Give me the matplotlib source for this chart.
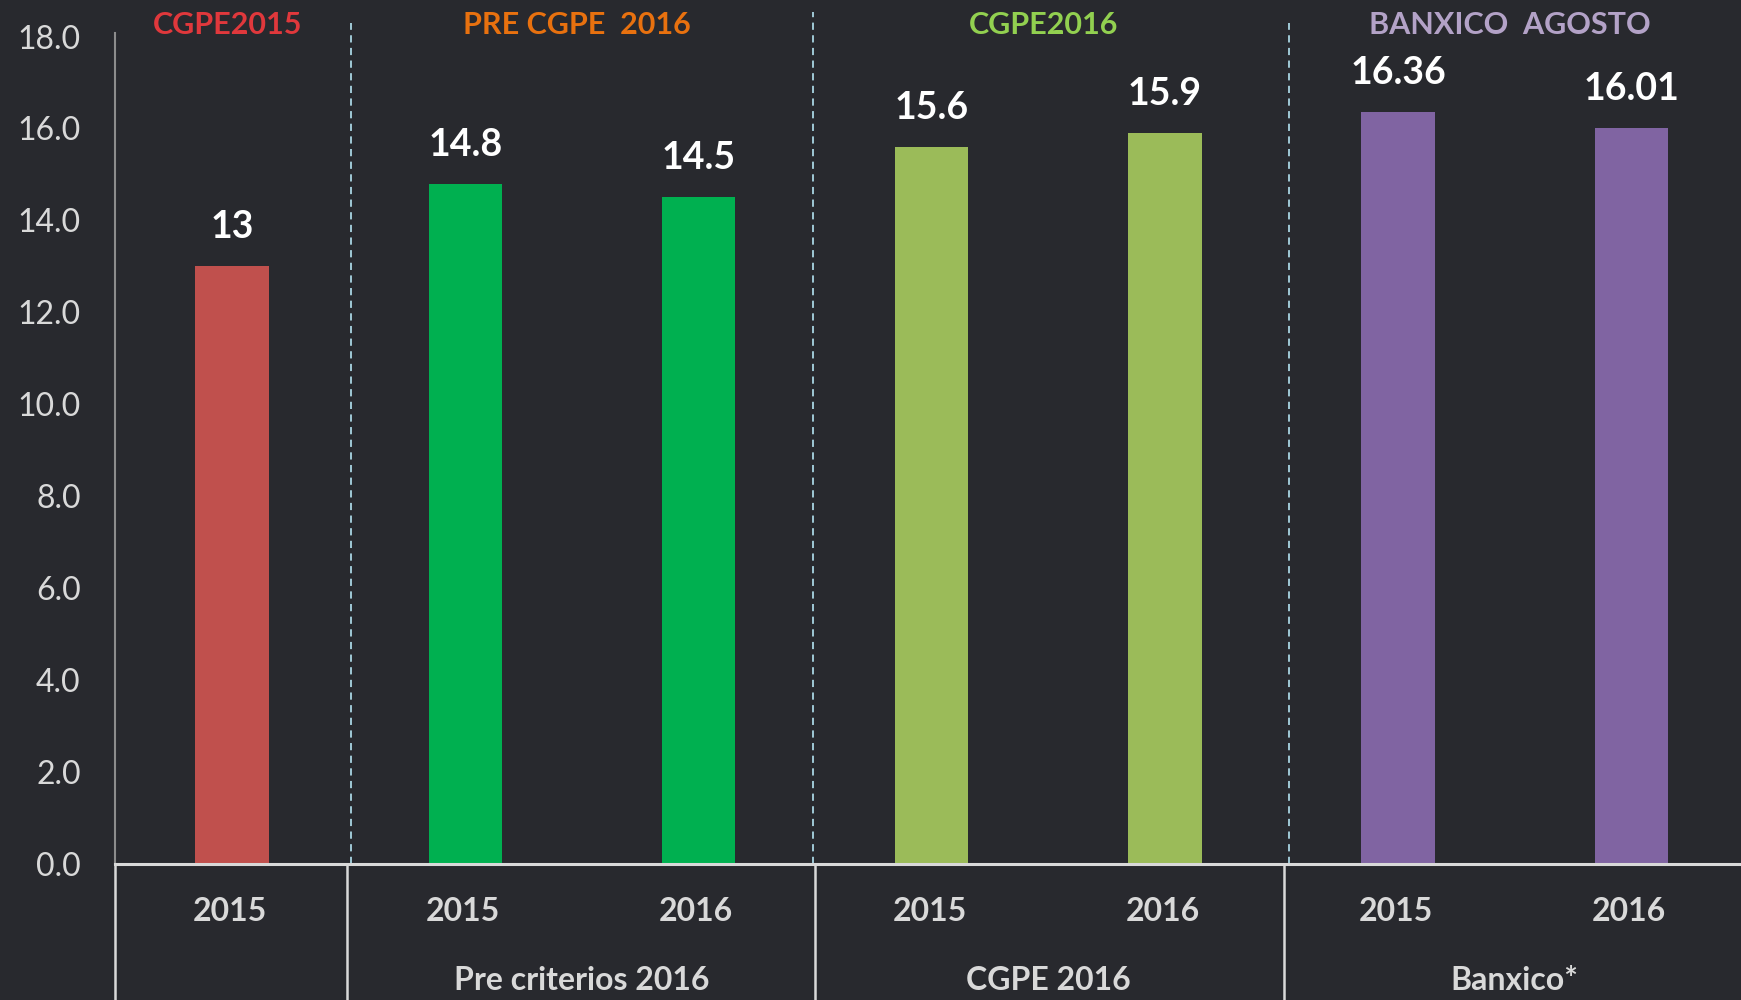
#Bar chart of growth estimates by source, dark theme
import numpy as np
import matplotlib.pyplot as plt
import matplotlib.transforms as mtransforms

plt.rcParams['font.family'] = ['Lato', 'DejaVu Sans']

#data
years = ['2015', '2015', '2016', '2015', '2016', '2015', '2016']
values = [13, 14.8, 14.5, 15.6, 15.9, 16.36, 16.01]
value_labels = ['13', '14.8', '14.5', '15.6', '15.9', '16.36', '16.01']
bar_colors = ['#c0504d', '#00b050', '#00b050', '#9bbb59', '#9bbb59', '#8064a2', '#8064a2']
groups = ['', 'Pre criterios 2016', 'CGPE 2016', 'Banxico*']
group_centers = [0, 1.5, 3.5, 5.5]
headers = ['CGPE2015', 'PRE CGPE  2016', 'CGPE2016', 'BANXICO  AGOSTO']
header_colors = ['#e0383c', '#e8710f', '#92d050', '#b3a2c7']
yticks = np.arange(0, 18.1, 2.0)

bg = '#28292e'
txt = '#d9d9d9'

fig = plt.figure(figsize=(17.41, 10), dpi=100, facecolor=bg)
ax = fig.add_axes([0.0663, 0.1365, 0.9337, 0.8269], facecolor=bg)

x = np.arange(len(values))
ax.bar(x, values, width=0.315, color=bar_colors, zorder=2)
for xi, v, lab in zip(x, values, value_labels):
    ax.annotate(lab, (xi, v), xytext=(0, 28), textcoords='offset points',
                ha='center', va='center', color='white', fontsize=27, fontweight='bold')

ax.set_xlim(-0.5, 6.47)
ax.set_ylim(0, 18)
ax.set_yticks(yticks)
ax.set_yticklabels(['%.1f' % t for t in yticks], color=txt, fontsize=23)
ax.tick_params(axis='y', length=0, pad=25)
ax.set_xticks([])
for s in ax.spines.values():
    s.set_visible(False)

trans = mtransforms.blended_transform_factory(ax.transData, ax.transAxes)

#y axis line and base line
ax.plot([-0.5, -0.5], [0, 1.004], transform=trans, color='#8c8c8c', lw=1.5, clip_on=False)
ax.plot([-0.5, 6.47], [0, 0], transform=trans, color='#d9d9d9', lw=2.2, clip_on=False, zorder=3)

#dashed dividers between groups
for xd, top in zip([0.51, 2.49, 4.53], [1.017, 1.03, 1.017]):
    ax.plot([xd, xd], [0, top], transform=trans, color='#a9d5e3', lw=1.3,
            ls=(0, (4, 3)), clip_on=False)

#solid separators under the axis
for xs in [-0.5, 0.495, 2.5, 4.51]:
    ax.plot([xs, xs], [0, -0.2], transform=trans, color='#d9d9d9', lw=1.8, clip_on=False)

for xi, y in zip(x, years):
    ax.text(xi - 0.01, -0.0577, y, transform=trans, ha='center', va='center',
            color=txt, fontsize=23, fontweight='bold')
for gc, g in zip(group_centers, groups):
    ax.text(gc, -0.141, g, transform=trans, ha='center', va='center',
            color=txt, fontsize=23, fontweight='bold')
for gc, h, c in zip(group_centers, headers, header_colors):
    ax.text(gc - 0.02, 1.014, h, transform=trans, ha='center', va='center',
            color=c, fontsize=22, fontweight='bold')

plt.savefig('out.png', dpi=100, facecolor=bg)
